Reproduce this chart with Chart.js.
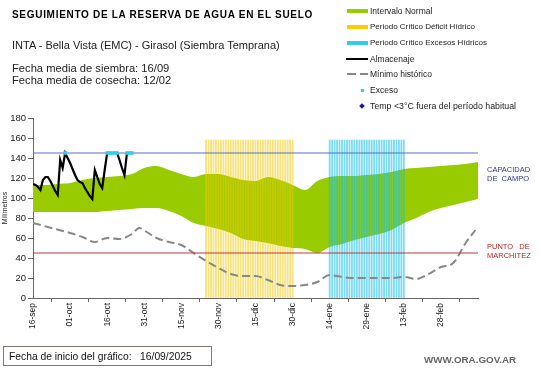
<!DOCTYPE html>
<html><head><meta charset="utf-8">
<script src="https://cdn.jsdelivr.net/npm/chart.js@4"></script>
<style>
body{margin:0;background:#fff;width:541px;height:368px;overflow:hidden;position:relative;font-family:"Liberation Sans",Arial,sans-serif;}
.t{position:absolute;white-space:nowrap;line-height:1;}
.sw{position:absolute;}
</style></head><body>
<canvas id="c" width="541" height="368" style="position:absolute;left:0;top:0"></canvas>
<div class="t" style="left:12px;top:10.3px;font-weight:bold;font-size:10px;letter-spacing:0.7px;color:#000">SEGUIMIENTO DE LA RESERVA DE AGUA EN EL SUELO</div>
<div class="t" style="left:12px;top:40.2px;font-size:11px;color:#222">INTA - Bella Vista (EMC) - Girasol (Siembra Temprana)</div>
<div class="t" style="left:12px;top:62.8px;font-size:11.2px;color:#222">Fecha media de siembra: 16/09</div>
<div class="t" style="left:12px;top:75.2px;font-size:11.2px;color:#222">Fecha media de cosecha: 12/02</div>

<div class="sw" style="left:347px;top:9px;width:21px;height:4px;background:#99cc00"></div>
<div class="sw" style="left:347px;top:25px;width:21px;height:4px;background:#ffcc00"></div>
<div class="sw" style="left:347px;top:41px;width:21px;height:4px;background:#33ccee"></div>
<div class="sw" style="left:346px;top:58px;width:22px;height:2px;background:#000"></div>
<div class="sw" style="left:347px;top:73px;width:9px;height:2px;background:#888"></div>
<div class="sw" style="left:360px;top:73px;width:8px;height:2px;background:#888"></div>
<div class="sw" style="left:361px;top:89px;width:3px;height:3px;background:#33ccee"></div>
<div class="sw" style="left:360px;top:104px;width:4px;height:4px;background:#1a1a99;transform:rotate(45deg)"></div>
<div class="t" style="left:370px;top:7px;font-size:8.5px;color:#222">Intervalo Normal</div>
<div class="t" style="left:370px;top:22.6px;font-size:8px;color:#222">Periodo Crítico Déficit Hídrico</div>
<div class="t" style="left:370px;top:39px;font-size:8px;color:#222">Periodo Crítico Excesos Hídricos</div>
<div class="t" style="left:370px;top:54.6px;font-size:8.5px;color:#222">Almacenaje</div>
<div class="t" style="left:370px;top:69.8px;font-size:8.5px;color:#222">Mínimo histórico</div>
<div class="t" style="left:370px;top:86.1px;font-size:8.5px;color:#222">Exceso</div>
<div class="t" style="left:370px;top:101.8px;font-size:8.8px;color:#222">Temp &lt;3°C fuera del período habitual</div>

<div class="t" style="left:487px;top:166.3px;font-size:7.5px;color:#333399">CAPACIDAD</div>
<div class="t" style="left:487px;top:174.5px;font-size:7.5px;color:#333399">DE&nbsp;&nbsp;CAMPO</div>
<div class="t" style="left:487px;top:243px;font-size:7.5px;color:#bb2222">PUNTO&nbsp;&nbsp;&nbsp;DE</div>
<div class="t" style="left:487px;top:251.5px;font-size:7.5px;color:#bb2222">MARCHITEZ</div>

<div style="position:absolute;left:3px;top:346px;width:207px;height:18px;border:1px solid #8b7373;"></div>
<div class="t" style="left:9px;top:352px;font-size:10.3px;color:#111">Fecha de inicio del gráfico:&nbsp;&nbsp;&nbsp;16/09/2025</div>
<div class="t" style="left:424px;top:354.7px;font-size:9.8px;font-weight:bold;color:#666">WWW.ORA.GOV.AR</div>

<script>
// ---- data (days counted from 16-sep) ----
const tickLabels = ['16-sep','01-oct','16-oct','31-oct','15-nov','30-nov','15-dic','30-dic','14-ene','29-ene','13-feb','28-feb'];
const bandDays = [0,5,10,15,20,25,30,35,40,45,50,55,60,65,70,75,80,85,90,95,100,105,110,115,120,125,130,135,140,145,150,155,160,165,170,175,180];
const bandUpper = [113,113,114,115,118,120,121,122,124,130,132,128,124,121,124,124,121,118,117,121,118,113,108,117,121,122,122,123,124,126,129,130,131,132,133,134,136];
const bandLower = [86,86,86,86,86,86,87,88,89,90,90,87,82,75,72,69,65,59,57,55,52,50,49,45,51,54,58,61,64,68,75,80,86,90,93,96,99];
const minDays = [0,6,15,20,25,30,35,40,43,46,50,55,60,65,70,75,80,85,90,95,100,105,110,115,120,125,130,135,140,145,150,155,160,165,170,175,179];
const minValues = [75,71,65,61,56,60,59,64,70,66,60,56,53,45,37,30,24,22,22,18,13,12,13,16,23,21,20,20,20,20,21,19,24,31,35,55,68];
const storageValues = [114,113,111,108,118,121,121,117,112,107,103,138,130,145,140,135,129,123,118,116,115,110,106,102,99,128,121,114,110,128,145,145,145,145,145,138,130,123,145,145,145];
const excessDays = [13,30,31,32,33,34,38,39,40];
const excessValues = [145,145,145,145,145,145,145,145,145];
const deficitDays = [70,71,72,73,74,75,76,77,78,79,80,81,82,83,84,85,86,87,88,89,90,91,92,93,94,95,96,97,98,99,100,101,102,103,104,105];
const excessPeriodDays = [120,121,122,123,124,125,126,127,128,129,130,131,132,133,134,135,136,137,138,139,140,141,142,143,144,145,146,147,148,149,150];
const periodTop = 158;
const fieldCapacity = 145;
const wiltingPoint = 45;

const xy = (xs, ys) => xs.map((x, i) => ({x, y: ys[i]}));
const storage = storageValues.map((y, i) => ({x: i, y}));
const flat = (xs, v) => xs.map(x => ({x, y: v}));

new Chart(document.getElementById('c'), {
  type: 'line',
  data: {
    datasets: [
      {data: xy(bandDays, bandLower), borderWidth: 0, pointRadius: 0, fill: false, order: 6, cubicInterpolationMode: 'monotone'},
      {data: xy(bandDays, bandUpper), borderWidth: 0, pointRadius: 0, fill: '-1', backgroundColor: '#99cc00', order: 5, cubicInterpolationMode: 'monotone'},
      {type: 'bar', data: flat(deficitDays, periodTop), backgroundColor: 'rgba(240,200,0,0.5)', barThickness: 1.2, grouped: false, order: 4},
      {type: 'bar', data: flat(excessPeriodDays, periodTop), backgroundColor: 'rgba(20,190,235,0.55)', barThickness: 1.2, grouped: false, order: 4},
      {data: xy(minDays, minValues), borderColor: '#888888', borderWidth: 2, borderDash: [8, 4], pointRadius: 0, fill: false, order: 3, cubicInterpolationMode: 'monotone'},
      {data: [{x: 0, y: fieldCapacity}, {x: 180, y: fieldCapacity}], borderColor: '#5572bb', borderWidth: 1, pointRadius: 0, fill: false, order: 2},
      {data: [{x: 0, y: wiltingPoint}, {x: 180, y: wiltingPoint}], borderColor: '#b83a3a', borderWidth: 1, pointRadius: 0, fill: false, order: 2},
      {data: storage, borderColor: '#000', borderWidth: 2.2, pointRadius: 0, fill: false, order: 1, tension: 0},
      {data: xy(excessDays, excessValues), showLine: false, pointStyle: 'rect', pointRadius: 2.5, backgroundColor: '#33ccee', borderWidth: 0, order: 0}
    ]
  },
  options: {
    responsive: false,
    animation: false,
    events: [],
    layout: {padding: {top: 118, right: 63, left: 0, bottom: 0}},
    plugins: {legend: {display: false}, tooltip: {enabled: false}},
    scales: {
      x: {
        type: 'linear', min: 0, max: 180, offset: false,
        afterFit: s => { s.height = 70; },
        grid: {drawOnChartArea: false, drawTicks: true, tickLength: 4, color: '#666'},
        border: {display: true, color: '#666', width: 1},
        ticks: {
          stepSize: 15, autoSkip: false, maxRotation: 90, minRotation: 90, padding: 1,
          color: '#222', font: {family: 'Liberation Sans', size: 8.5},
          callback: v => tickLabels[v / 15] ?? null
        }
      },
      y: {
        min: 0, max: 180,
        afterFit: s => { s.width = 33; },
        grid: {drawOnChartArea: false, drawTicks: true, tickLength: 5, color: '#666'},
        border: {display: true, color: '#666', width: 1},
        ticks: {stepSize: 20, padding: 2, color: '#222', font: {family: 'Liberation Sans', size: 9.5}},
        title: {display: true, text: 'Milímetros', color: '#222', font: {family: 'Liberation Sans', size: 7}, padding: {top: 1, bottom: 0}}
      }
    }
  }
});
</script>
</body></html>
